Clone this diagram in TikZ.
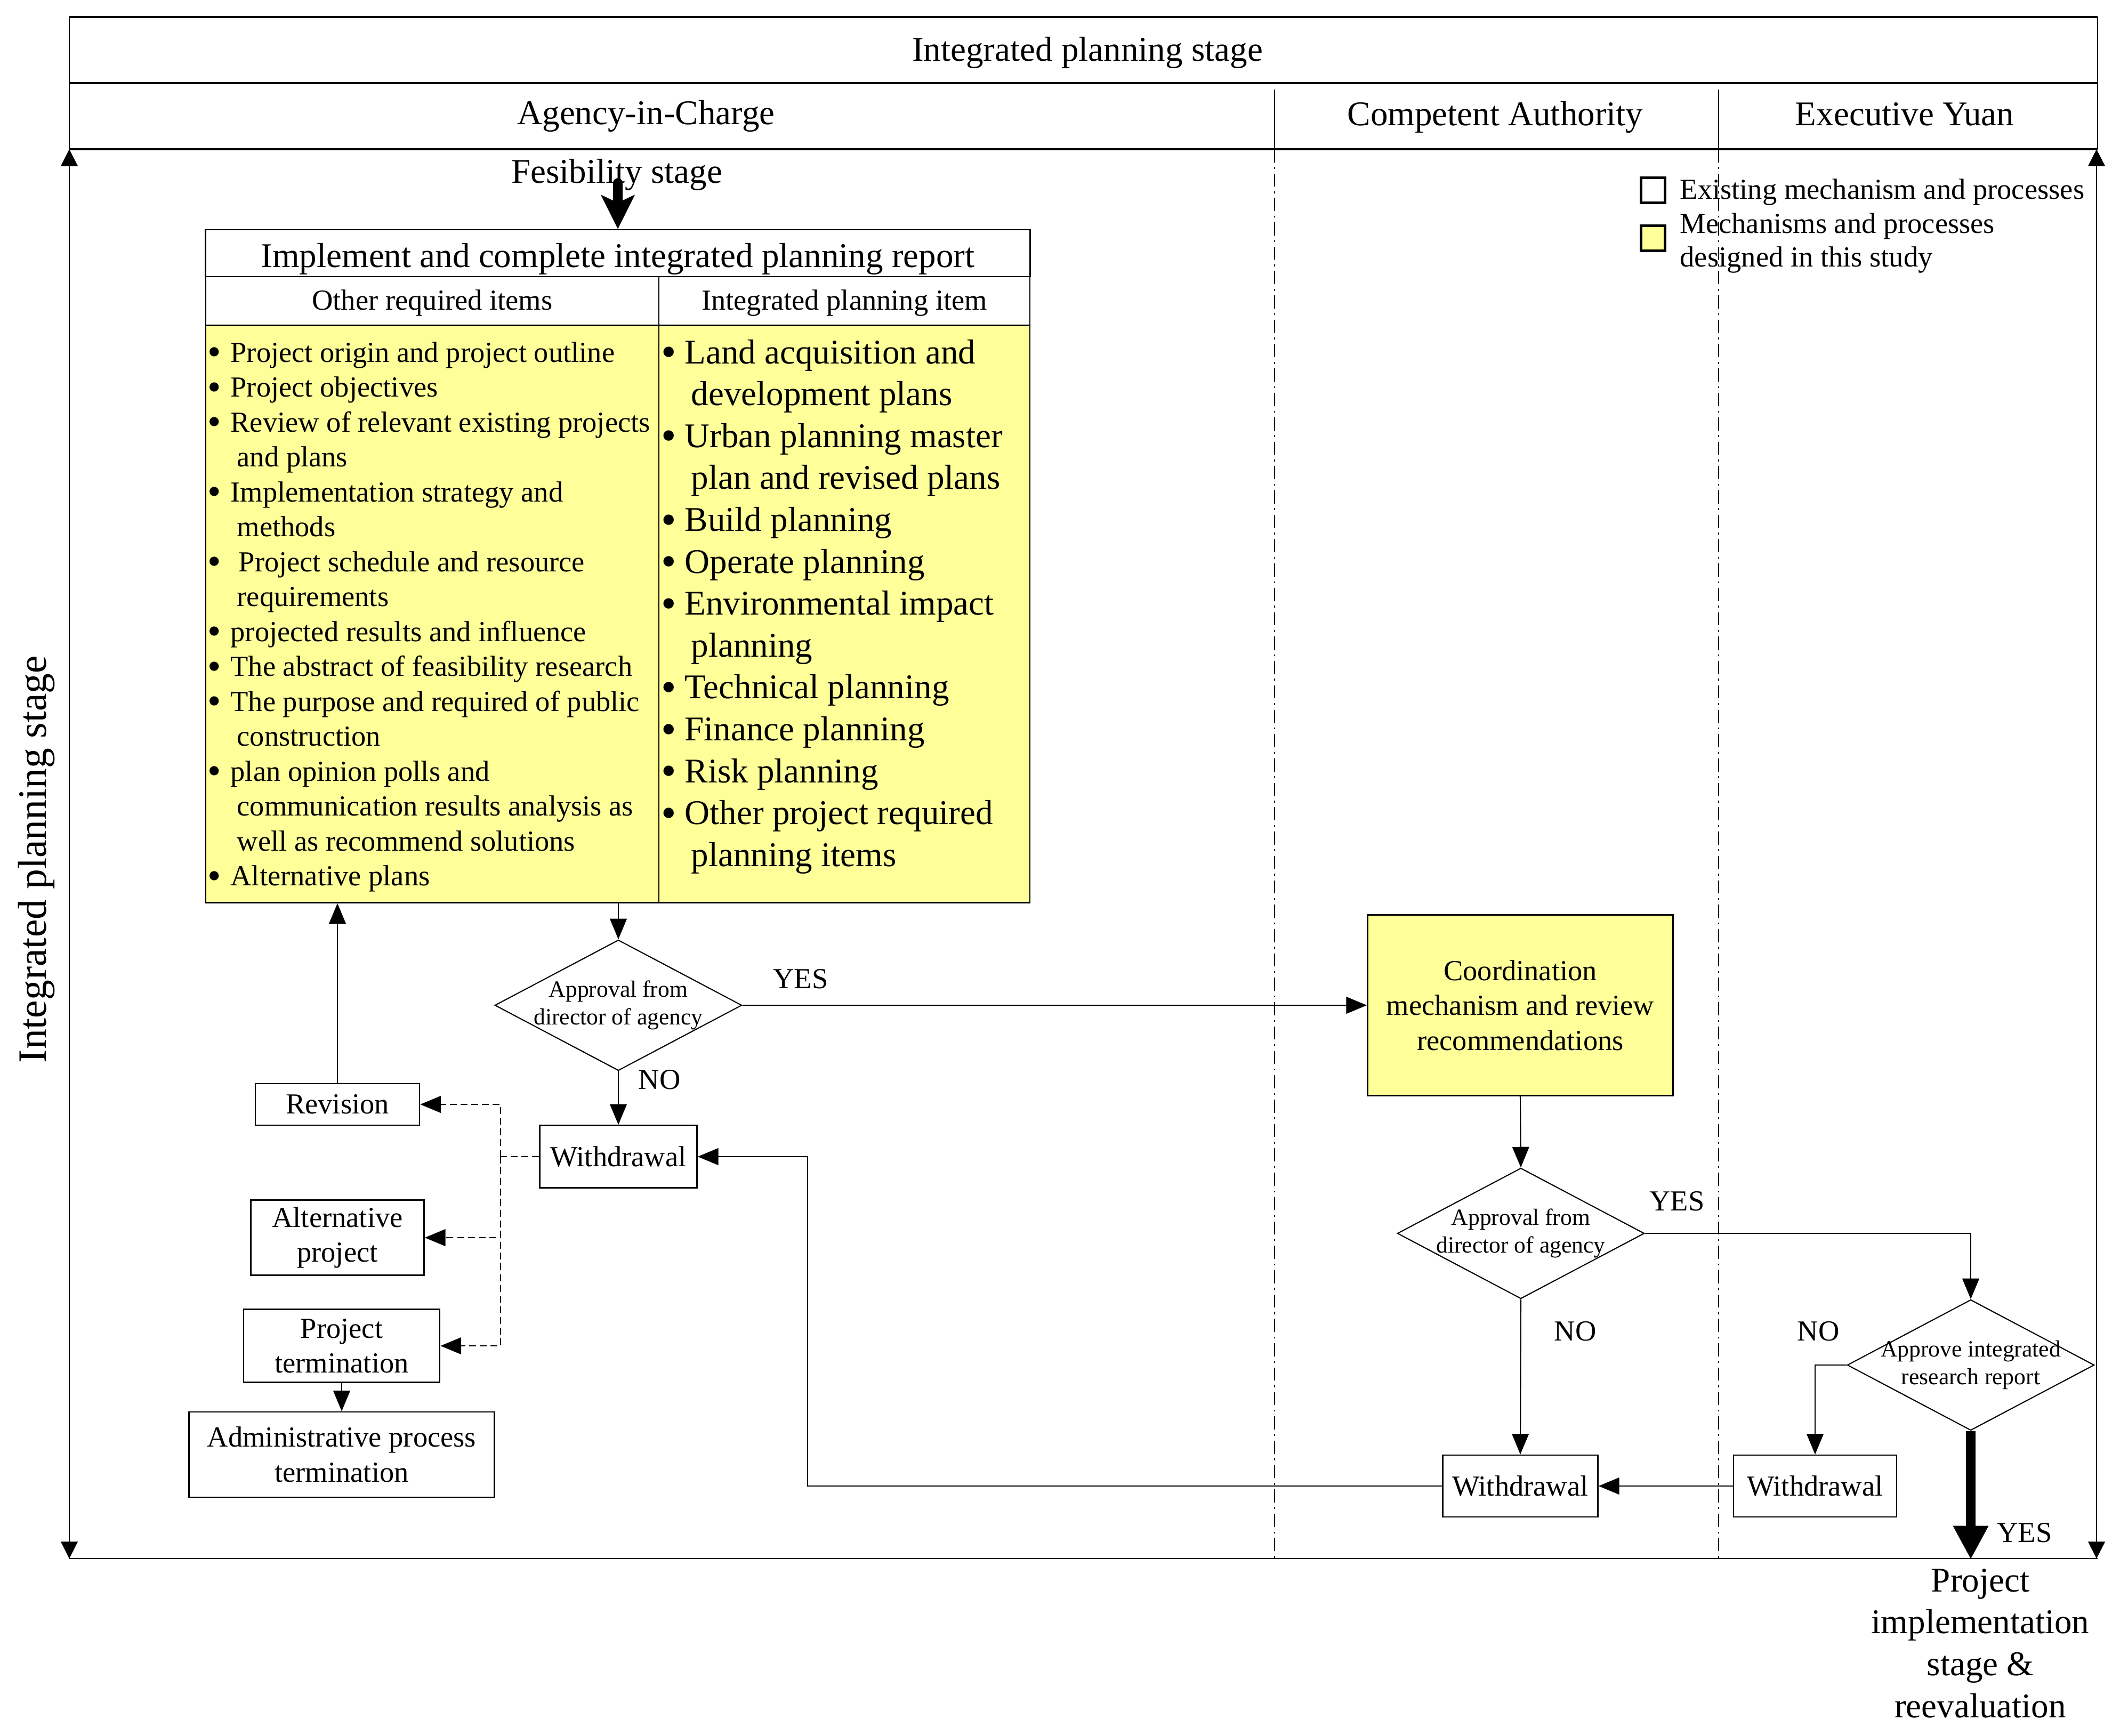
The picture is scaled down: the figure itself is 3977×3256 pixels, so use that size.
\documentclass[tikz,border=0pt]{standalone}
\usepackage{fontspec}
\setmainfont{Liberation Serif}
\usetikzlibrary{arrows.meta,shapes.geometric,calc}
\definecolor{yel}{HTML}{FFFF99}
\newcommand\fszA{\fontsize{18.5pt}{22.4pt}\selectfont}
\newcommand\fszB{\fontsize{15.5pt}{18.6pt}\selectfont}
\newcommand\fszC{\fontsize{12.4pt}{14.8pt}\selectfont}
\newcommand\fszD{\fontsize{21.5pt}{25pt}\selectfont}
\newcommand\lbul{\makebox[12.2pt][l]{\raisebox{-1.6pt}{\scalebox{1.33}{\textbullet}}}}
\newcommand\lbulw{\makebox[16.5pt][l]{\raisebox{-1.6pt}{\scalebox{1.33}{\textbullet}}}}
\newcommand\rbul{\makebox[12.5pt][l]{\raisebox{-1.6pt}{\scalebox{1.25}{\textbullet}}}}
\begin{document}
\begin{tikzpicture}[x=0.01cm,y=-0.01cm,
  every node/.style={inner sep=0pt},
  bx/.style={draw,line width=0.7pt,align=center,font=\fszB},
  tb/.style={draw,line width=0.7pt},
  dm/.style={draw,diamond,line width=0.6pt,minimum width=4.63cm,minimum height=2.45cm},
  dmt/.style={font=\fszC,align=center},
  li/.style={font=\fszB,anchor=base west},
  ri/.style={font=\fszA,anchor=base west},
  hd/.style={font=\fszA,anchor=base},
  lbl/.style={font=\fszB},
  arr/.style={line width=0.6pt,-{Triangle[length=11pt,width=9pt]}},
  dar/.style={line width=0.5pt,dash pattern=on 3.7pt off 2pt,-{Triangle[length=11pt,width=9pt]}},
  dsh/.style={line width=0.5pt,dash pattern=on 3.7pt off 2pt},
  frarr/.style={line width=0.6pt,{Triangle[length=9pt,width=9pt]}-{Triangle[length=9pt,width=9pt]}},
  big/.style={line width=5pt},
  lanediv/.style={line width=0.5pt,dash pattern=on 7pt off 2.5pt on 1pt off 2.5pt},
  hline/.style={line width=1.1pt}]
\useasboundingbox (0,0) rectangle (3977,3256);

% ---------- frame ----------
\draw[hline] (130,32) -- (3935,32);
\draw[hline] (130,156) -- (3935,156);
\draw[hline] (130,280) -- (3935,280);
\draw[line width=0.7pt] (130,32) -- (130,280);
\draw[line width=0.7pt] (3935,32) -- (3935,280);
\draw[line width=0.8pt] (130,2924) -- (3935,2924);
\draw[line width=0.5pt] (2391,168) -- (2391,280);
\draw[lanediv] (2391,280) -- (2391,2924);
\draw[line width=0.5pt] (3224,168) -- (3224,280);
\draw[lanediv] (3224,280) -- (3224,2924);
\coordinate (fl1) at (130,280);
\coordinate (fl2) at (130,2924);
\coordinate (fr1) at (3933,280);
\coordinate (fr2) at (3933,2924);
\draw[frarr] (fl1) -- (fl2);
\draw[frarr] (fr1) -- (fr2);

% ---------- headers ----------
\node[hd] (hA) at (2040,114) {Integrated planning stage};
\node[hd] (hB) at (1212,233) {Agency-in-Charge};
\node[hd] (hC) at (2805,235) {Competent Authority};
\node[hd] (hD) at (3573,235) {Executive Yuan};
\node[font=\fszD,rotate=90] (side) at (68,1612) {Integrated planning stage};
\node[hd] (fes) at (1157,343) {Fesibility stage};

% ---------- legend ----------
\node[draw,line width=1.5pt,minimum width=0.45cm,minimum height=0.47cm] (sq1) at (3101,357) {};
\node[draw,line width=1.5pt,fill=yel,minimum width=0.45cm,minimum height=0.47cm] (sq2) at (3101,447) {};
\node[li] (lg1) at (3151,373) {Existing mechanism and processes};
\node[li] (lg2) at (3151,437) {Mechanisms and processes};
\node[li] (lg3) at (3151,500) {designed in this study};

% ---------- report table ----------
\node[tb,minimum width=15.46cm,minimum height=0.88cm] (ttl) at (1159,475) {};
\node[hd] (ttlt) at (1159,501) {Implement and complete integrated planning report};
\node[tb,minimum width=8.5cm,minimum height=0.92cm] (subL) at (811,565) {};
\node[tb,minimum width=6.96cm,minimum height=0.92cm] (subR) at (1584,565) {};
\node[font=\fszB,anchor=base] (subLt) at (811,581) {Other required items};
\node[font=\fszB,anchor=base] (subRt) at (1584,581) {Integrated planning item};
\node[tb,fill=yel,minimum width=8.5cm,minimum height=10.82cm] (conL) at (811,1152) {};
\node[tb,fill=yel,minimum width=6.96cm,minimum height=10.82cm] (conR) at (1584,1152) {};

\node[li] (a1) at (389,679) {\lbul Project origin and project outline};
\node[li] (a2) at (389,744.5) {\lbul Project objectives};
\node[li] (a3) at (389,810) {\lbul Review of relevant existing projects};
\node[li] (a4) at (444,875.5) {and plans};
\node[li] (a5) at (389,941) {\lbul Implementation strategy and};
\node[li] (a6) at (444,1006.5) {methods};
\node[li] (a7) at (389,1072) {\lbulw Project schedule and resource};
\node[li] (a8) at (444,1137.5) {requirements};
\node[li] (a9) at (389,1203) {\lbul projected results and influence};
\node[li] (a10) at (389,1268.5) {\lbul The abstract of feasibility research};
\node[li] (a11) at (389,1334) {\lbul The purpose and required of public};
\node[li] (a12) at (444,1399.5) {construction};
\node[li] (a13) at (389,1465) {\lbul plan opinion polls and};
\node[li] (a14) at (444,1530.5) {communication results analysis as};
\node[li] (a15) at (444,1596) {well as recommend solutions};
\node[li] (a16) at (389,1661.5) {\lbul Alternative plans};

\node[ri] (b1) at (1240,682) {\rbul Land acquisition and};
\node[ri] (b2) at (1296,760.6) {development plans};
\node[ri] (b3) at (1240,839.2) {\rbul Urban planning master};
\node[ri] (b4) at (1296,917.8) {plan and revised plans};
\node[ri] (b5) at (1240,996.4) {\rbul Build planning};
\node[ri] (b6) at (1240,1075) {\rbul Operate planning};
\node[ri] (b7) at (1240,1153.6) {\rbul Environmental impact};
\node[ri] (b8) at (1296,1232.2) {planning};
\node[ri] (b9) at (1240,1310.8) {\rbul Technical planning};
\node[ri] (b10) at (1240,1389.4) {\rbul Finance planning};
\node[ri] (b11) at (1240,1468) {\rbul Risk planning};
\node[ri] (b12) at (1240,1546.6) {\rbul Other project required};
\node[ri] (b13) at (1296,1625.2) {planning items};

% ---------- process boxes ----------
\node[bx,fill=yel,minimum width=5.73cm,minimum height=3.39cm] (coord) at (2852,1886) {Coordination\\mechanism and review\\recommendations};
\node[bx,minimum width=2.95cm,minimum height=1.17cm] (w1) at (1160,2170) {Withdrawal};
\node[bx,minimum width=3.08cm,minimum height=0.78cm] (rev) at (633,2072) {Revision};
\node[bx,minimum width=3.25cm,minimum height=1.41cm] (alt) at (633,2322) {Alternative\\project};
\node[bx,minimum width=3.68cm,minimum height=1.37cm] (pt) at (641,2525) {Project\\termination};
\node[bx,minimum width=5.73cm,minimum height=1.60cm] (adm) at (641,2729) {Administrative process\\termination};
\node[bx,minimum width=2.91cm,minimum height=1.16cm] (w2) at (2852,2788) {Withdrawal};
\node[bx,minimum width=3.06cm,minimum height=1.16cm] (w3) at (3405,2788) {Withdrawal};

\node[dm] (d1) at (1160,1886) {};
\node[dmt] (d1t) at (1160,1886) {Approval from\\director of agency};
\node[dm] (d2) at (2853,2314) {};
\node[dmt] (d2t) at (2853,2314) {Approval from\\director of agency};
\node[dm] (d3) at (3697,2561) {};
\node[dmt] (d3t) at (3697,2561) {Approve integrated\\research report};

% ---------- connectors ----------
\draw[big,line cap=round,-{Stealth[length=18pt,width=17.6pt,inset=4pt]}] (fes.base -| ttl.north) -- (ttl.north);
\draw[arr] (conL.south -| d1.north) -- (d1.north);
\draw[arr] (d1.east) -- (coord.west);
\draw[arr] (d1.south) -- (w1.north);
\draw[arr] (rev.north) -- (rev.north |- conL.south);
\coordinate (dj) at (939,2170);
\draw[dsh] (w1.west) -- (dj);
\draw[dar] (dj) |- (rev.east);
\draw[dar] (dj) |- (alt.east);
\draw[dar] (dj) |- (pt.east);
\draw[arr] (pt.south) -- (adm.north);
\draw[arr] (coord.south) -- (d2.north);
\draw[arr] (d2.east) -| (d3.north);
\draw[arr] (d2.south) -- (w2.north);
\draw[arr] (d3.west) -| (w3.north);
\draw[arr] (w3.west) -- (w2.east);
\coordinate (t1) at (1515,2788);
\draw[arr] (w2.west) -- (t1) |- (w1.east);
\coordinate (bt) at (3697,2926);
\draw[big,-{Triangle[length=18pt,width=17.6pt]}] (d3.south) -- (bt);

% ---------- labels ----------
\node[lbl] (y1) at (1502,1837) {YES};
\node[lbl] (n1) at (1237,2026) {NO};
\node[lbl] (y2) at (3146,2254) {YES};
\node[lbl] (n2) at (2955,2498) {NO};
\node[lbl] (n3) at (3411,2498) {NO};
\node[lbl] (y3) at (3798,2876) {YES};
\node[font=\fszA,align=center] (impl) at (3715,3083) {Project\\implementation\\stage \&\\reevaluation};
\end{tikzpicture}
\end{document}
